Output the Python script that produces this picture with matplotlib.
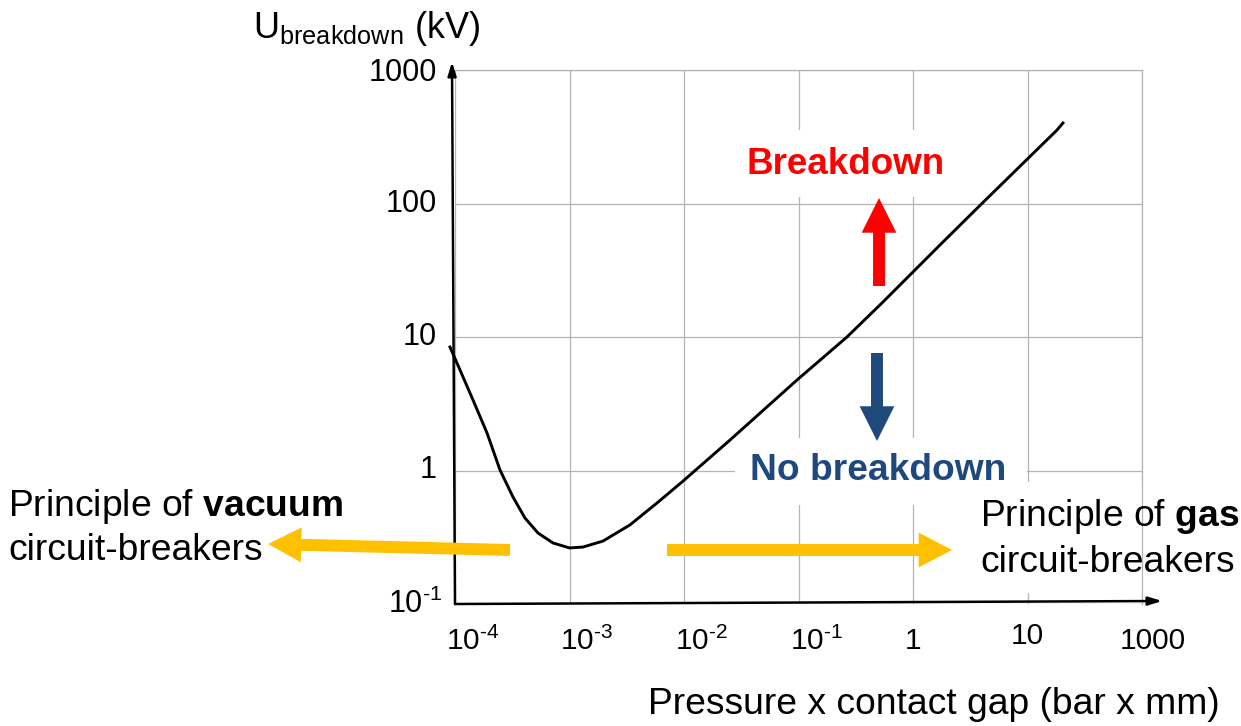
import matplotlib
matplotlib.use("Agg")
import matplotlib.pyplot as plt
from matplotlib.patches import Rectangle, FancyArrowPatch
from matplotlib.transforms import offset_copy

plt.rcParams['font.family'] = ['Liberation Sans', 'DejaVu Sans']
plt.rcParams['mathtext.fontset'] = 'custom'
plt.rcParams['mathtext.rm'] = 'Liberation Sans'
plt.rcParams['mathtext.it'] = 'Liberation Sans:italic'
plt.rcParams['mathtext.bf'] = 'Liberation Sans:bold'

# ---- data ----
pd_values = [9.04e-5, 1.106e-4, 1.437e-4, 1.904e-4, 2.47e-4, 3.21e-4, 4.08e-4, 5.31e-4,
             7.18e-4, 1.0e-3, 1.31e-3, 1.96e-3, 3.37e-3, 5.81e-3, 9.6e-3, 2.52e-2,
             9.7e-2, 0.265, 0.547, 1.0, 1.72, 4.0, 18.1, 20.4]
u_breakdown = [8.41, 5.66, 3.37, 1.91, 1.01, 0.633, 0.441, 0.340,
               0.2865, 0.263, 0.267, 0.296, 0.391, 0.571, 0.82, 1.69,
               4.76, 10.0, 18.3, 30.7, 48.9, 100.0, 355.0, 401.0]

x_ticks = [1e-4, 1e-3, 1e-2, 1e-1, 1, 10, 100]
x_tick_labels = ['10$^{\\text{-4}}$', '10$^{\\text{-3}}$', '10$^{\\text{-2}}$',
                 '10$^{\\text{-1}}$', '1', '10', '1000']
y_ticks = [0.1, 1, 10, 100, 1000]
y_tick_labels = ['10$^{\\text{-1}}$', '1', '10', '100', '1000']

W, H = 1241, 726
fig = plt.figure(figsize=(W / 100, H / 100), dpi=100)
L, R, B, T = 455, 1142, 604, 70
ax = fig.add_axes([L / W, (H - B) / H, (R - L) / W, (B - T) / H])
ax.set_xscale('log')
ax.set_yscale('log')
ax.set_xlim(1e-4, 100)
ax.set_ylim(0.1, 1000)
ax.set_xticks(x_ticks)
ax.set_yticks(y_ticks)
ax.minorticks_off()
ax.set_xticklabels([])
ax.set_yticklabels([])
ax.tick_params(length=0)
ax.grid(True, color='#b4b4b4', linewidth=0.9)
for s in ['left', 'bottom']:
    ax.spines[s].set_visible(False)
for s in ['top', 'right']:
    ax.spines[s].set_color('#b4b4b4')
    ax.spines[s].set_linewidth(0.9)

def fx(px):
    return (px - L) / (R - L)

def fy(py):
    return (B - py) / (B - T)

# white boxes behind annotations (interrupting grid)
for (x0, y0, x1, y1) in [(740, 130, 952, 197), (735, 438, 1027, 505), (962, 482, 1241, 593)]:
    ax.add_patch(Rectangle((fx(x0), fy(y1)), fx(x1) - fx(x0), fy(y0) - fy(y1),
                           transform=ax.transAxes, facecolor='white', edgecolor='none',
                           zorder=2, clip_on=False))

# curve
ax.plot(pd_values, u_breakdown, color='black', linewidth=2.1, zorder=5, clip_on=False,
        solid_joinstyle='round')

# axis arrows
ax.annotate('', xy=(fx(452), fy(62)), xytext=(0, 0), xycoords='axes fraction',
            textcoords='axes fraction',
            arrowprops=dict(arrowstyle='-|>,head_length=0.8,head_width=0.25', color='black',
                            lw=1.8, shrinkA=0, shrinkB=0), zorder=6)
ax.annotate('', xy=(fx(1162), fy(601)), xytext=(0, 0), xycoords='axes fraction',
            textcoords='axes fraction',
            arrowprops=dict(arrowstyle='-|>,head_length=0.8,head_width=0.25', color='black',
                            lw=1.8, shrinkA=0, shrinkB=0), zorder=6)

# tick labels
xtr = ax.get_xaxis_transform()
for v, lab in zip(x_ticks, x_tick_labels):
    if lab.startswith('10$'):
        tr = offset_copy(xtr, fig=fig, x=-9, y=-37, units='dots')
        ha = 'left'
    elif lab == '1000':
        tr = offset_copy(xtr, fig=fig, x=11, y=-37, units='dots')
        ha = 'center'
    elif lab == '10':
        tr = offset_copy(xtr, fig=fig, x=0, y=-32, units='dots')
        ha = 'center'
    else:
        tr = offset_copy(xtr, fig=fig, x=0, y=-37, units='dots')
        ha = 'center'
    ax.text(v, 0, lab, transform=tr, ha=ha, va='center', fontsize=21.5, clip_on=False)

ytr = ax.get_yaxis_transform()
for v, lab in zip(y_ticks, y_tick_labels):
    dx = -13 if lab.startswith('10$') else -18
    dy = -3 if lab == '1000' else 0
    tr = offset_copy(ytr, fig=fig, x=dx, y=dy, units='dots')
    ax.text(0, v, lab, transform=tr, ha='right', va='center', fontsize=22, clip_on=False)

# axis titles
fig.text(253 / W, 1 - 28 / H, r'U$_{\mathrm{breakdown}}$ (kV)', ha='left', va='center',
         fontsize=26)
fig.text(934 / W, 1 - 704 / H, 'Pressure x contact gap (bar x mm)', ha='center',
         va='center', fontsize=26.8)

# Breakdown / No breakdown
ax.text(fx(846), fy(165), 'Breakdown', transform=ax.transAxes, ha='center', va='center',
        fontsize=26.5, fontweight='bold', color='#ff0000', zorder=7)
ax.text(fx(878), fy(471), 'No breakdown', transform=ax.transAxes, ha='center', va='center',
        fontsize=26.7, fontweight='bold', color='#1f497d', zorder=7)

def block_arrow(p0, p1, color, hl, hw, tw):
    a = FancyArrowPatch((fx(p0[0]), fy(p0[1])), (fx(p1[0]), fy(p1[1])),
                        transform=ax.transAxes,
                        arrowstyle=f'simple,head_length={hl},head_width={hw},tail_width={tw}',
                        mutation_scale=1, color=color, linewidth=0, shrinkA=0, shrinkB=0,
                        clip_on=False, zorder=8)
    ax.add_patch(a)

block_arrow((879, 286), (879, 198), '#ff0000', 25, 25, 8.6)
block_arrow((877, 353), (877, 441), '#1f497d', 25, 25, 8.6)
block_arrow((510, 550), (268, 544), '#ffc000', 24, 25, 8.6)
block_arrow((667, 550), (952, 550), '#ffc000', 24, 25, 8.6)

# side texts
fig.text(8 / W, 1 - 507 / H, r'Principle of $\mathbf{vacuum}$', ha='left', va='center',
         fontsize=26.8)
fig.text(8 / W, 1 - 550 / H, 'circuit-breakers', ha='left', va='center', fontsize=26.8)
fig.text(980 / W, 1 - 517 / H, r'Principle of $\mathbf{gas}$', ha='left', va='center',
         fontsize=26.8)
fig.text(980 / W, 1 - 562 / H, 'circuit-breakers', ha='left', va='center', fontsize=26.8)

fig.savefig('out.png', dpi=100, facecolor='white')
